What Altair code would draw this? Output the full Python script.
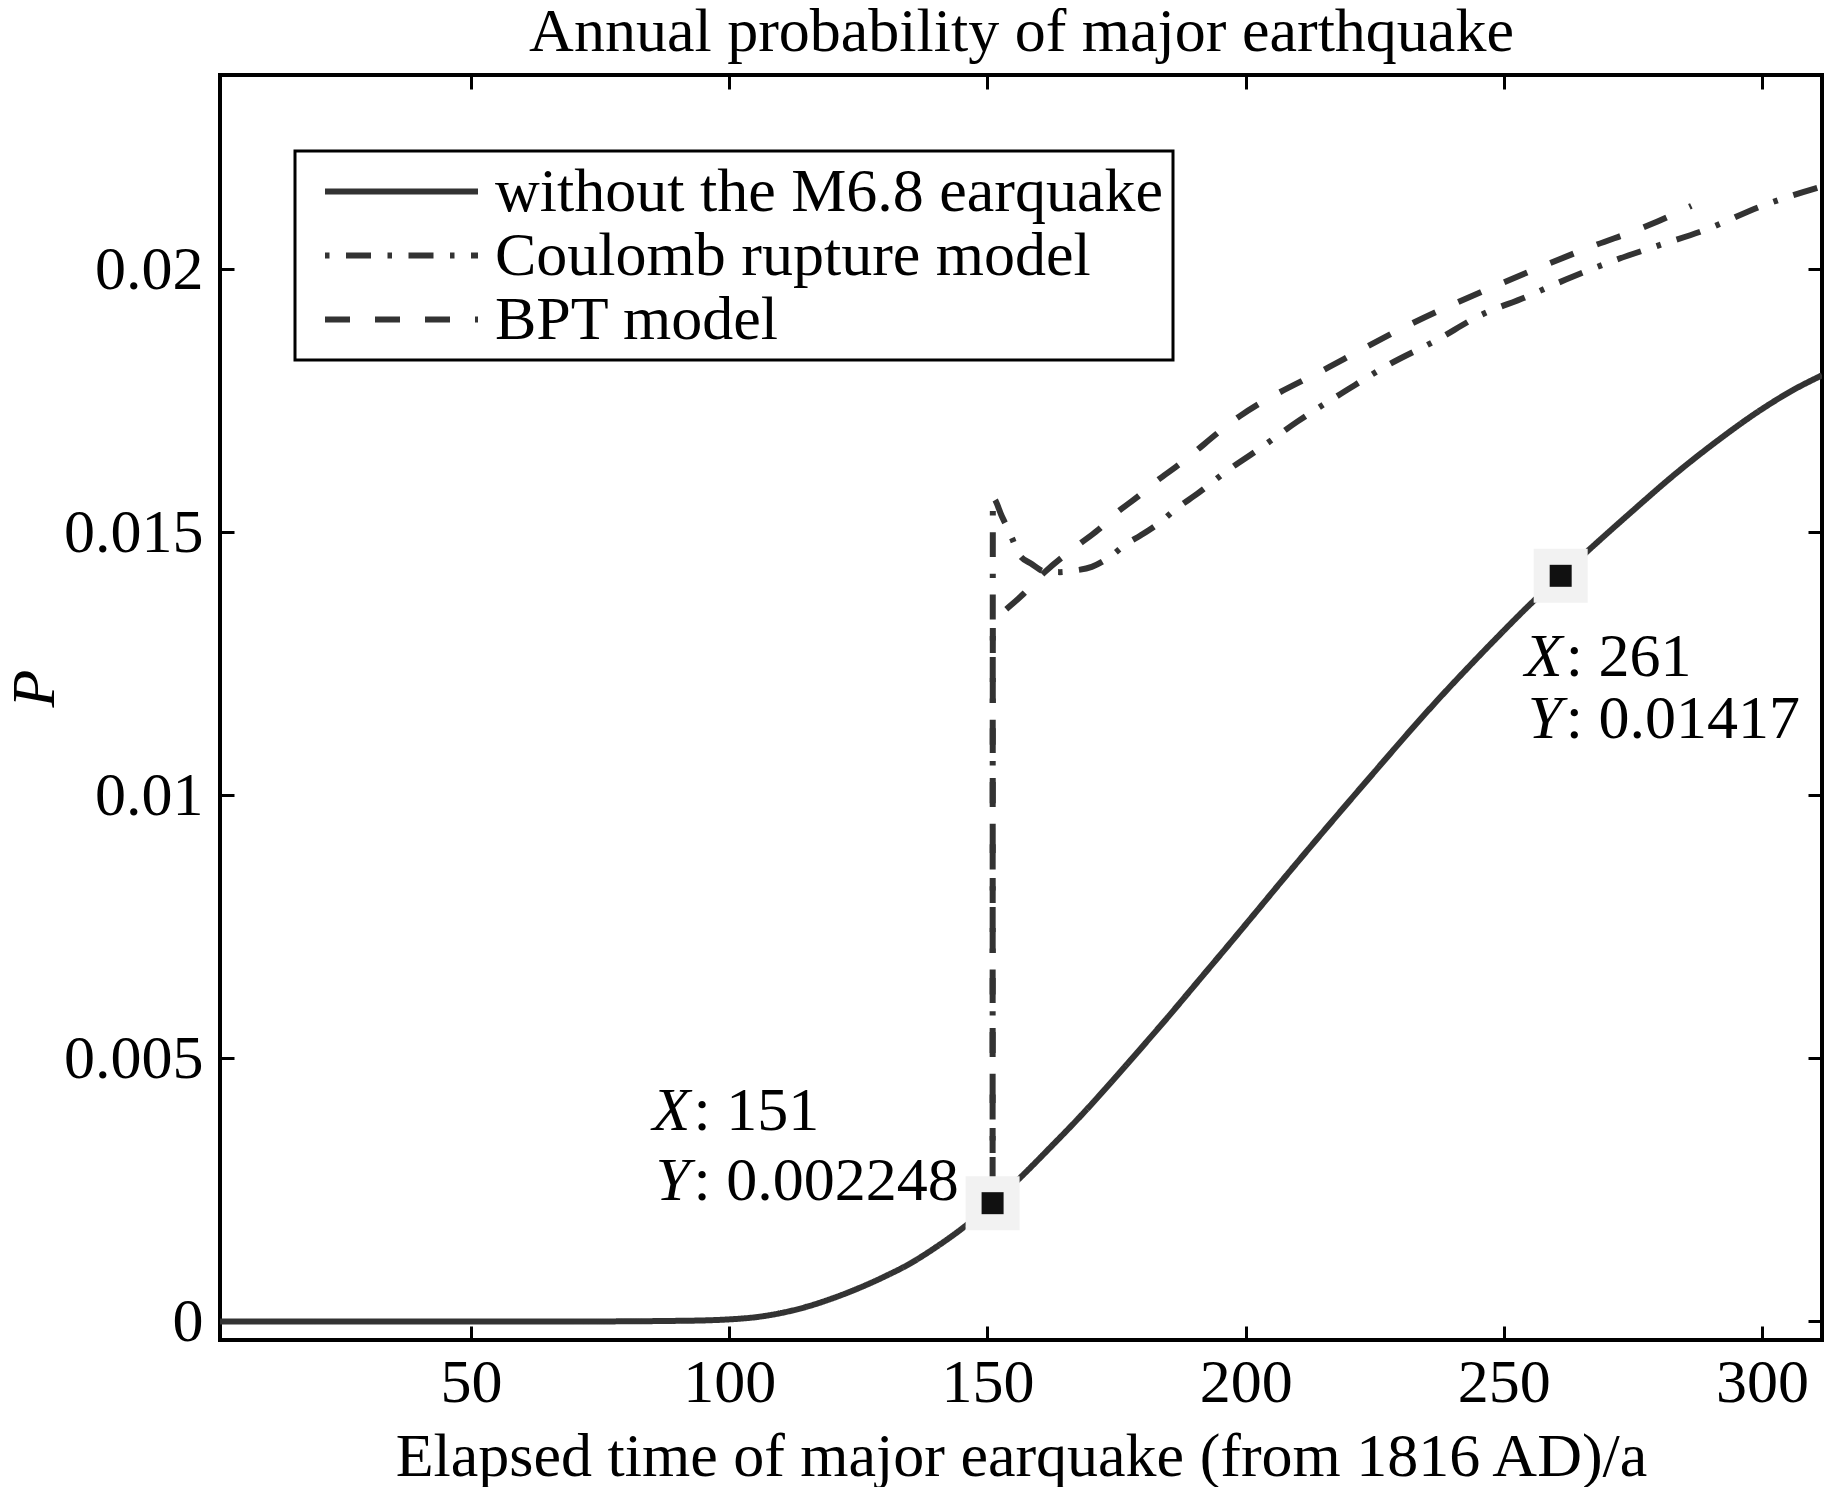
import altair as alt
import pandas as pd

# ---------------- data ----------------
series_names = ["without the M6.8 earquake", "Coulomb rupture model", "BPT model"]

without_x = [1.4, 20, 40, 60, 70, 80, 90, 95, 100, 105, 110, 115, 120, 125, 130, 135,
             140, 145, 151, 156, 162, 168, 174, 179, 185, 191, 197, 202, 208, 214, 220,
             225, 231, 237, 243, 249, 255, 261, 267, 275, 283, 291, 300, 306, 311.6]
without_y = [0, 0, 0, 0, 0, 0.000003, 0.000012, 0.00002, 0.00004, 0.00008, 0.00016,
             0.00028, 0.00044, 0.00063, 0.00085, 0.00110, 0.00141, 0.00176, 0.002248,
             0.00270, 0.00329, 0.00390, 0.00455, 0.00511, 0.00579, 0.00649, 0.00719,
             0.00778, 0.00849, 0.00919, 0.00988, 0.01045, 0.01113, 0.01179, 0.01242,
             0.01303, 0.01362, 0.01417, 0.01471, 0.01541, 0.01609, 0.01671, 0.01734,
             0.01770, 0.01798]

coulomb_x = [151, 151.05, 152.8, 154.7, 156.1, 158.5, 161.2, 164, 166.8, 170.2, 174.4,
             176.5, 179.7, 183.6, 186.5, 190.8, 196.2, 202.3, 210, 219.6, 228, 237,
             245, 254.3, 262, 271.6, 280, 288.9, 300, 311.6]
coulomb_y = [0.002248, 0.01565, 0.0153, 0.0149, 0.01458, 0.0144, 0.01425, 0.01424,
             0.01427, 0.01434, 0.01458, 0.01475, 0.01494, 0.0152, 0.01544, 0.01574,
             0.01615, 0.01656, 0.0171, 0.0177, 0.0182, 0.01865, 0.0191, 0.01947,
             0.0198, 0.02017, 0.02045, 0.02074, 0.0212, 0.02157]

bpt_x = [151, 151.05, 152.8, 156.7, 161.2, 167.5, 171.4, 174.9, 178.8, 182.6, 186.5,
         198.8, 216.2, 232.3, 249.6, 266.8, 278, 286.3]
bpt_y = [0.002248, 0.0133, 0.01346, 0.0138, 0.01425, 0.01475, 0.01504, 0.01536,
         0.01565, 0.01596, 0.01624, 0.0172, 0.01814, 0.01897, 0.01973, 0.02042,
         0.02083, 0.0212]

tip_x = [151, 261]
tip_y = [0.002248, 0.01417]
tip_xtext = ["151", "261"]
tip_ytext = ["0.002248", "0.01417"]

x_ticks = [50, 100, 150, 200, 250, 300]
y_ticks = [0, 0.005, 0.01, 0.015, 0.02]

title_text = "Annual probability of major earthquake"
x_title = "Elapsed time of major earquake (from 1816 AD)/a"
y_title = "P"

# ---------------- tables ----------------
rows = []
for name, xs, ys in zip(series_names, [without_x, coulomb_x, bpt_x],
                        [without_y, coulomb_y, bpt_y]):
    for i, (a, b) in enumerate(zip(xs, ys)):
        rows.append({"series": name, "t": a, "p": b, "idx": i})
lines_df = pd.DataFrame(rows)

tips_df = pd.DataFrame({
    "t": tip_x, "p": tip_y,
    "xt": [": " + s for s in tip_xtext],
    "yt": [": " + s for s in tip_ytext],
    "xl": ["X"] * len(tip_x),
    "yl": ["Y"] * len(tip_x),
})

# ---------------- style ----------------
FONT = "Liberation Serif"
FS = 62
LINE = "#333333"
TICK = 14
LW = 6

x_scale = alt.Scale(domain=[1.4, 311.6], nice=False, zero=False)
y_scale = alt.Scale(domain=[-0.000352, 0.023687], nice=False, zero=False)

dash_range = [[1, 0], [4.5, 16.5, 25, 16.5], [25, 25]]


def tick_axis(orient, values):
    return alt.Axis(orient=orient, values=values, offset=-TICK, ticks=True,
                    tickSize=TICK, tickWidth=3, tickColor="black", labels=False,
                    domain=False, grid=False, title=None)


lines = alt.Chart(lines_df).mark_line(
    strokeWidth=LW, color=LINE, clip=True, strokeCap="butt", interpolate="monotone"
).encode(
    x=alt.X("t:Q", scale=x_scale, axis=alt.Axis(
        orient="bottom", values=x_ticks, format="d", ticks=False, tickSize=0,
        domain=False, grid=False, labelFont=FONT, labelFontSize=FS,
        labelColor="black", labelPadding=12, labelFlush=False, labelOverlap=False,
        title=x_title, titleFont=FONT, titleFontSize=FS, titleFontWeight="normal",
        titleColor="black", titleY=135, titleBaseline="alphabetic")),
    y=alt.Y("p:Q", scale=y_scale, axis=alt.Axis(
        orient="left", values=y_ticks, format="~g", ticks=False, tickSize=0,
        domain=False, grid=False, labelFont=FONT, labelFontSize=FS,
        labelColor="black", labelPadding=17, labelFlush=False, labelOverlap=False,
        title=y_title, titleFont=FONT, titleFontSize=FS, titleFontWeight="normal",
        titleFontStyle="italic", titleColor="black", titleAngle=270,
        titleX=-167, titleY=613, titleAlign="center", titleBaseline="alphabetic")),
    strokeDash=alt.StrokeDash("series:N", scale=alt.Scale(domain=series_names, range=dash_range),
                              legend=alt.Legend(
                                  title=None, orient="none", legendX=75, legendY=76,
                                  symbolType="M-2.708,0H2.708", symbolSize=3192,
                                  symbolStrokeWidth=LW, symbolStrokeColor=LINE,
                                  symbolFillColor="transparent",
                                  labelFont=FONT, labelFontSize=FS, labelColor="black",
                                  labelLimit=2000, padding=9, rowPadding=1,
                                  strokeColor="black", fillColor="white",
                                  symbolOffset=66, labelOffset=62, cornerRadius=0)),
    order=alt.Order("idx:Q"),
)

boxes = alt.Chart(tips_df).mark_square(size=2916, color="#f2f2f2", opacity=1).encode(
    x=alt.X("t:Q", scale=x_scale, axis=tick_axis("bottom", x_ticks)),
    y=alt.Y("p:Q", scale=y_scale, axis=tick_axis("left", y_ticks)),
)

squares = alt.Chart(tips_df).mark_square(size=484, color="#111111", opacity=1).encode(
    x=alt.X("t:Q", scale=x_scale, axis=tick_axis("top", x_ticks)),
    y=alt.Y("p:Q", scale=y_scale, axis=tick_axis("right", y_ticks)),
)

# chart title carried by a top axis (offset 0) of the first text layer
title_axis = alt.Axis(orient="top", values=x_ticks, ticks=False, labels=False, domain=False,
                      grid=False, title=title_text, titleFont=FONT, titleFontSize=FS,
                      titleFontWeight="normal", titleColor="black", titleY=-25,
                      titleBaseline="alphabetic", titleAlign="center")

# datatip text offsets (pixels): (letter dx, rest dx, X-line dy, Y-line dy, Y letter dx)
tip_offsets = [(-340, -299, -73, -3, -337), (-36, 5, 100, 162, -33)]

text_layers = []
for i, (ldx, rdx, dyx, dyy, ydx) in enumerate(tip_offsets):
    sub = tips_df.iloc[[i]]
    base = alt.Chart(sub)
    xaxis = title_axis if i == 0 else None
    enc = dict(x=alt.X("t:Q", scale=x_scale, axis=xaxis),
               y=alt.Y("p:Q", scale=y_scale, axis=None))
    enc_plain = dict(x=alt.X("t:Q", scale=x_scale, axis=None),
                     y=alt.Y("p:Q", scale=y_scale, axis=None))
    common = dict(font=FONT, fontSize=FS, color="black", align="left", baseline="alphabetic")
    text_layers.append(base.mark_text(dx=ldx, dy=dyx, fontStyle="italic", **common)
                       .encode(text="xl:N", **enc))
    text_layers.append(base.mark_text(dx=rdx, dy=dyx, **common).encode(text="xt:N", **enc_plain))
    text_layers.append(base.mark_text(dx=ydx, dy=dyy, fontStyle="italic", **common)
                       .encode(text="yl:N", **enc_plain))
    text_layers.append(base.mark_text(dx=rdx, dy=dyy, **common).encode(text="yt:N", **enc_plain))

chart = alt.layer(lines, boxes, squares, *text_layers).resolve_axis(
    x="independent", y="independent"
).properties(
    width=1602, height=1265,
    autosize=alt.AutoSizeParams(type="none"),
    padding={"left": 212, "top": 67, "right": 3, "bottom": 147},
    background="white",
).configure_view(
    stroke="black", strokeWidth=4
).configure_legend(
    strokeWidth=3
)

chart.save("out.html", embed_options={"renderer": "svg", "actions": False})
